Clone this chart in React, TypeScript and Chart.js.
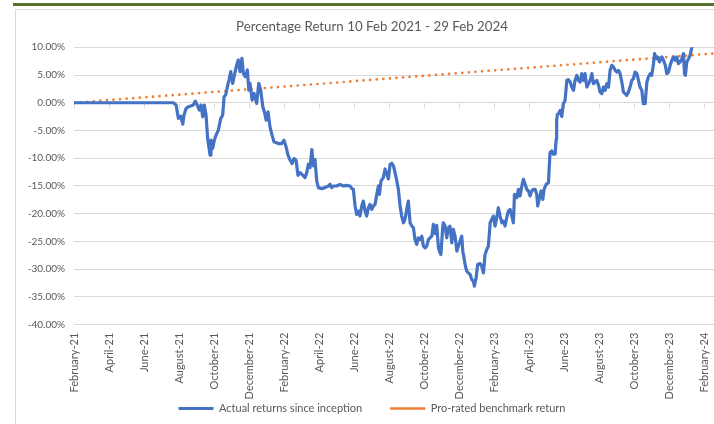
import { useEffect, useRef } from 'react';
import { Chart, LinearScale, registerables } from 'chart.js';

Chart.register(...registerables);

// Linear scale whose tick labels are not clipped to the axis box
class UnclippedLinearScale extends LinearScale {
  _computeLabelArea(): any {
    return undefined;
  }
}
(UnclippedLinearScale as any).id = 'unclippedLinear';
(UnclippedLinearScale as any).defaults = (LinearScale as any).defaults;
Chart.register(UnclippedLinearScale as any);

const chartTitle = 'Percentage Return 10 Feb 2021 - 29 Feb 2024';
const actualLabel = 'Actual returns since inception';
const benchmarkLabel = 'Pro-rated benchmark return';

const xTickLabels = [
  'February-21', 'April-21', 'June-21', 'August-21', 'October-21', 'December-21',
  'February-22', 'April-22', 'June-22', 'August-22', 'October-22', 'December-22',
  'February-23', 'April-23', 'June-23', 'August-23', 'October-23', 'December-23',
  'February-24',
];

// months since 10 Feb 2021
const actualMonths = [
  0, 5.67, 5.83, 5.96, 6.09, 6.21, 6.28, 6.40, 6.53, 6.66, 6.81, 6.93, 7.04, 7.16, 7.25, 7.35, 7.44, 7.54,
  7.63, 7.77, 7.82, 7.92, 8.01, 8.11, 8.24, 8.38, 8.49, 8.57, 8.66, 8.76, 8.85, 8.95, 9.06, 9.18, 9.29, 9.38,
  9.48, 9.59, 9.67, 9.78, 9.90, 9.98, 10.05, 10.17, 10.28, 10.43, 10.55, 10.66, 10.78, 10.87, 10.97, 11.08,
  11.19, 11.31, 11.42, 11.67, 11.86, 11.99, 12.11, 12.22, 12.34, 12.45, 12.56, 12.68, 12.79,
  12.91, 13.10, 13.19, 13.29, 13.38, 13.48, 13.58, 13.67, 13.76, 13.86, 13.95, 14.15, 14.33, 14.52, 14.62,
  14.72, 14.81, 15.0, 15.19, 15.38, 15.57, 15.76, 15.86, 15.95, 16.05, 16.14, 16.24, 16.33, 16.43, 16.52,
  16.62, 16.71, 16.81, 16.90, 17.0, 17.09, 17.19, 17.29, 17.38, 17.44, 17.53, 17.66, 17.76, 17.86, 17.95,
  18.05, 18.14, 18.24, 18.33, 18.43, 18.52, 18.62, 18.71, 18.81, 18.90, 19.0, 19.09, 19.19, 19.29, 19.38,
  19.47, 19.57, 19.66, 19.76, 19.86, 19.95, 20.05, 20.14, 20.24, 20.33, 20.43, 20.52, 20.62, 20.71, 20.81,
  20.90, 20.95, 21.05, 21.09, 21.19, 21.28, 21.38, 21.47, 21.57, 21.66, 21.76, 21.86, 21.95, 22.04, 22.14,
  22.20, 22.27, 22.35, 22.43, 22.52, 22.62, 22.71, 22.81, 22.86, 22.96, 23.05, 23.19, 23.28, 23.38, 23.47,
  23.57, 23.66, 23.72, 23.76, 23.85, 23.95, 24.04, 24.14, 24.23, 24.33, 24.43, 24.52, 24.61, 24.71, 24.80,
  24.90, 25.0, 25.09, 25.15, 25.28, 25.38, 25.47, 25.57, 25.66, 25.76, 25.85, 25.95, 26.04, 26.14, 26.23,
  26.33, 26.42, 26.48, 26.58, 26.67, 26.77, 26.84, 26.96, 27.09, 27.18, 27.28, 27.37, 27.47, 27.53, 27.56,
  27.60, 27.66, 27.76, 27.85, 27.94, 28.04, 28.14, 28.23, 28.33, 28.42, 28.52, 28.61, 28.71, 28.80, 28.90,
  28.99, 29.09, 29.18, 29.28, 29.38, 29.47, 29.57, 29.66, 29.76, 29.85, 29.95, 30.04, 30.14, 30.23, 30.33,
  30.42, 30.52, 30.61, 30.71, 30.80, 30.90, 30.99, 31.09, 31.18, 31.28, 31.37, 31.47, 31.56, 31.66, 31.75,
  31.85, 31.94, 32.04, 32.14, 32.23, 32.32, 32.42, 32.51, 32.61, 32.71, 32.80, 32.90, 32.99, 33.09, 33.15,
  33.24, 33.32, 33.43, 33.57, 33.66, 33.76, 33.85, 33.95, 34.04, 34.14, 34.23, 34.33, 34.42, 34.51, 34.61,
  34.71, 34.80, 34.86, 34.91, 34.99, 35.09, 35.18, 35.28, 35.33, 35.45,
];

// percent
const actualReturns = [
  0, 0, -0.42, -2.83, -2.41, -3.86, -2.23, -1.02, -0.72, -0.60, -0.42, 0.30, -0.42, -1.33, -0.42, -2.53, -0.42, -2.23,
  -6.45, -9.46, -6.75, -8.25, -6.75, -5.84, -4.94, -2.83, -2.23, 1.08, 1.39, 2.89, 4.10, 5.60, 3.49, 5.30, 6.81, 7.71,
  5.60, 8.01, 5.30, 4.70, 5.90, 2.29, 3.49, 0.48, 1.69, -0.12, 3.49, 2.29, -0.72, -1.63, -3.13, -1.63,
  -4.34, -5.84, -7.05, -7.35, -7.35, -6.75, -7.95, -9.46, -10.36, -10.96, -10.06, -10.36, -13.07,
  -12.59, -13.19, -13.50, -12.59, -11.08, -11.69, -8.43, -11.39, -10.24, -14.10, -15.30, -15.48, -15.30, -15.0, -14.70,
  -15.30, -15.0, -15.0, -14.70, -15.0, -14.88, -15.0, -15.48, -15.60, -18.61, -20.12, -19.52, -20.42, -18.61, -17.71,
  -19.52, -20.42, -18.92, -18.31, -19.22, -18.61, -18.31, -16.51, -15.0, -16.51, -14.10, -13.49, -11.93, -12.83, -13.73,
  -11.08, -10.90, -11.39, -12.59, -14.04, -15.60, -18.61, -20.42, -21.63, -21.02, -19.22, -17.71, -21.63, -22.23, -22.53,
  -24.64, -25.54, -24.34, -24.64, -24.04, -25.84, -26.14, -25.84, -24.64, -24.34, -24.04, -21.93, -23.61, -22.11, -26.14,
  -27.05, -27.35, -22.53, -21.63, -22.23, -24.34, -22.53, -22.23, -25.24, -22.83, -24.04, -26.75, -25.84, -24.94, -24.04,
  -26.75, -27.95, -29.46, -30.36, -30.66, -30.96, -31.87, -32.17, -33.07, -31.57, -29.16, -28.98, -29.46, -30.66, -27.35,
  -26.45, -25.84, -23.43, -21.63, -21.02, -20.42, -22.23, -20.72, -18.92, -20.42, -21.63, -21.33, -22.23, -20.72, -19.52,
  -19.22, -20.42, -21.63, -16.51, -17.11, -15.60, -16.81, -15.0, -13.79, -14.70, -15.60, -15.90, -16.81, -15.90, -15.60,
  -15.60, -16.51, -18.61, -17.11, -15.90, -17.41, -15.60, -14.70, -14.40, -8.98, -8.67, -9.28, -9.28, -6.60, -3.20,
  -2.11, -1.99, -1.39, -2.47, -0.18, 0.42, 4.04, 4.16, 3.73, 2.83, 2.23, 4.04, 4.94, 4.04, 3.73,
  5.24, 4.04, 5.24, 2.83, 3.43, 4.04, 5.24, 3.43, 3.73, 4.04, 3.13, 1.93, 1.63, 2.83, 2.23,
  3.43, 2.83, 5.84, 6.75, 6.45, 5.84, 5.54, 5.84, 5.24, 3.73, 1.93, 1.63, 1.33, 1.93, 2.83,
  4.04, 4.34, 5.54, 5.24, 4.04, 2.83, 2.23, -0.18, -0.18, 3.73, 4.64, 5.24, 4.94, 7.05, 8.86,
  7.95, 8.25, 7.35, 8.25, 7.65, 6.75, 5.24, 5.54, 6.75, 7.65, 8.25, 7.65, 8.25, 7.05, 7.35,
  7.95, 8.86, 5.24, 4.94, 7.35, 7.95, 8.55, 10.06, 11.27, 12.5,
];

const benchmarkMonths = [0, 36.63];
const benchmarkReturns = [0, 8.9];

const yMin = -40;
const yMax = 10;
const yStep = 5;
const xMax = 37;

const textGray = '#595959';
const gridGray = '#d9d9d9';

const zeroAxisTicks = {
  id: 'zeroAxisTicks',
  beforeDatasetsDraw(chart: any) {
    const xs = chart.scales.x;
    const ys = chart.scales.y;
    const y0 = Math.round(ys.getPixelForValue(0)) + 0.5;
    const ctx = chart.ctx;
    ctx.save();
    ctx.strokeStyle = gridGray;
    ctx.lineWidth = 1;
    xs.ticks.forEach((t: any) => {
      const px = Math.round(xs.getPixelForValue(t.value)) + 0.5;
      ctx.beginPath();
      ctx.moveTo(px, y0);
      ctx.lineTo(px, y0 + 5);
      ctx.stroke();
    });
    ctx.restore();
  },
};

export default function App() {
  const ref = useRef<HTMLCanvasElement>(null);

  useEffect(() => {
    const chart = new Chart(ref.current as HTMLCanvasElement, {
      type: 'line',
      data: {
        datasets: [
          {
            label: actualLabel,
            data: actualMonths.map((m, i) => ({ x: m, y: actualReturns[i] })),
            borderColor: '#4472C4',
            backgroundColor: '#4472C4',
            borderWidth: 3.2,
            pointRadius: 0,
            tension: 0,
            borderJoinStyle: 'round',
            borderCapStyle: 'round',
            clip: 0,
          },
          {
            label: benchmarkLabel,
            data: benchmarkMonths.map((m, i) => ({ x: m, y: benchmarkReturns[i] })),
            borderColor: '#ED7D31',
            backgroundColor: '#ED7D31',
            borderWidth: 2.7,
            borderDash: [0, 6.6],
            borderCapStyle: 'round',
            pointRadius: 0,
            tension: 0,
            clip: 0,
          },
        ],
      } as any,
      options: {
        responsive: false,
        animation: false,
        devicePixelRatio: 1,
        layout: { padding: { left: 6, right: 8, top: 0, bottom: 0 } },
        plugins: {
          title: {
            display: true,
            text: chartTitle,
            color: textGray,
            font: { family: 'Lato', size: 13.3, weight: 'normal' },
            padding: { top: 9, bottom: 12.3 },
          },
          legend: {
            position: 'bottom',
            labels: {
              usePointStyle: true,
              pointStyle: 'line',
              pointStyleWidth: 35,
              boxHeight: 11,
              color: textGray,
              font: { family: 'Lato', size: 11 },
              padding: 28,
            },
          },
          tooltip: { enabled: false },
        },
        scales: {
          x: {
            type: 'unclippedLinear',
            min: 0,
            max: xMax,
            grid: { display: false, drawTicks: false },
            border: { display: false },
            ticks: {
              stepSize: 2,
              includeBounds: false,
              autoSkip: false,
              minRotation: 90,
              maxRotation: 90,
              padding: 8,
              color: textGray,
              font: { family: 'Lato', size: 11 },
              callback: (v: any) => xTickLabels[Math.round(Number(v) / 2)] ?? '',
            },
            afterFit: (s: any) => {
              s.height = 50.3;
            },
          },
          y: {
            min: yMin,
            max: yMax,
            grid: { color: gridGray, drawTicks: false },
            border: { display: false },
            ticks: {
              stepSize: yStep,
              padding: 9,
              color: textGray,
              font: { family: 'Lato', size: 10 },
              callback: (v: any) => Number(v).toFixed(2) + '%',
            },
            afterFit: (s: any) => {
              s.width = 52;
            },
          },
        },
      } as any,
      plugins: [zeroAxisTicks],
    });
    return () => chart.destroy();
  }, []);

  return (
    <div
      style={{
        position: 'fixed',
        left: 0,
        top: 0,
        width: 714,
        height: 424,
        overflow: 'hidden',
        background: '#ffffff',
      }}
    >
      <div style={{ position: 'absolute', left: 13, top: 3, right: 0, height: 3, background: '#55702f' }} />
      <div
        style={{
          position: 'absolute',
          left: 15,
          top: 9,
          width: 800,
          height: 500,
          borderLeft: '1px solid #d9d9d9',
          borderTop: '1px solid #d9d9d9',
        }}
      />
      <canvas
        ref={ref}
        width={714}
        height={414}
        style={{ position: 'absolute', left: 16, top: 10, width: 714, height: 414, display: 'block' }}
      />
    </div>
  );
}
